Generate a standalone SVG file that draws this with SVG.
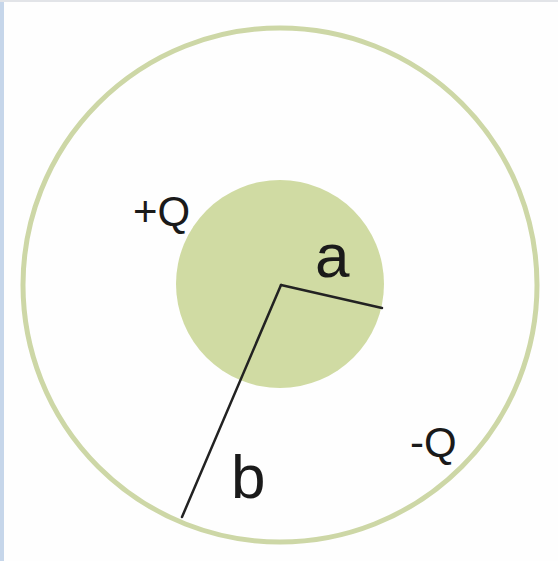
<svg xmlns="http://www.w3.org/2000/svg" width="558" height="561" viewBox="0 0 558 561">
<style>
.lbl{font-family:"Liberation Sans",Arial,sans-serif;fill:#1a1a1a}
.ln{stroke:#222;stroke-width:2.5;fill:none;stroke-linecap:round}
</style>
<rect width="558" height="561" fill="#fefefe"/>
<rect x="0" y="0" width="4" height="561" fill="#c6d6ea"/>
<rect x="0" y="0" width="558" height="2" fill="#e2e4e8"/>
<g id="outer">
<circle cx="280" cy="285" r="257" fill="none" stroke="#cdd7a6" stroke-width="5"/>
</g>
<g id="inner">
<circle cx="280" cy="284" r="104" fill="#d0dba3"/>
</g>
<g id="connectors">
<line class="ln" x1="281" y1="285" x2="382" y2="308"/>
<line class="ln" x1="281" y1="285" x2="182" y2="517"/>
</g>
<g id="labels">
<text class="lbl" x="133" y="226" font-size="42">+Q</text>
<text class="lbl" x="315" y="277" font-size="62">a</text>
<text class="lbl" x="231" y="498" font-size="62">b</text>
<text class="lbl" x="410" y="457" font-size="42">-Q</text>
</g>
</svg>
